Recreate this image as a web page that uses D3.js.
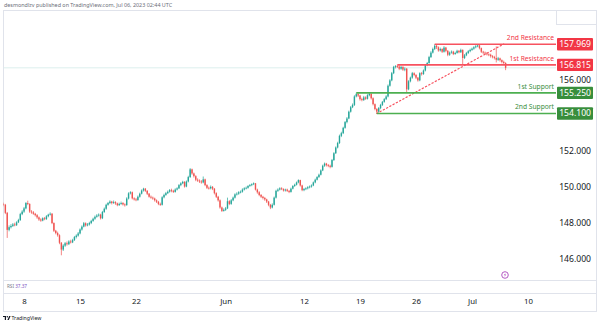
<!DOCTYPE html>
<html>
<head>
<meta charset="utf-8">
<script src="https://cdn.jsdelivr.net/npm/d3@7"></script>
<style>
  html, body { margin: 0; padding: 0; background: #ffffff; }
  svg { display: block; font-family: "Noto Sans", "DejaVu Sans", sans-serif; }
</style>
</head>
<body>
<svg id="chart" width="600" height="325"></svg>
<script>
// USD/JPY 4-hour candles, 4 May – 6 Jul 2023 (each candle opens at the prior close)
const firstOpen = 149.05;
const closes = [
  149.00,148.55,147.60,147.75,147.82,147.90,147.86,148.02,148.15,148.48,
  148.62,148.80,149.10,149.05,148.62,148.58,148.50,148.42,148.30,148.18,
  148.12,148.25,148.20,148.36,148.45,148.50,147.98,147.55,147.42,147.30,
  146.88,146.50,146.72,146.85,146.80,146.95,146.90,147.03,147.20,147.28,
  147.40,147.62,147.78,147.97,147.85,147.90,147.98,148.10,148.22,148.33,
  148.40,148.45,148.25,148.60,148.78,149.00,149.10,149.18,149.10,149.15,
  149.08,148.98,149.05,149.10,149.02,148.98,149.35,149.64,149.70,149.36,
  149.30,149.27,149.45,149.62,149.80,149.90,149.78,149.62,149.45,149.40,
  149.35,149.25,149.17,149.05,149.00,149.42,149.55,149.65,149.73,149.82,
  149.78,149.72,149.85,149.92,150.10,150.20,150.28,150.02,150.30,150.55,
  150.98,150.75,150.60,150.40,150.35,150.30,150.25,150.42,150.10,149.95,
  149.92,150.00,149.90,149.65,149.45,149.25,148.85,148.66,148.72,148.80,
  149.20,149.05,149.25,149.40,149.58,149.62,149.70,149.73,149.85,149.92,
  149.95,150.05,150.10,150.15,150.20,149.85,149.70,149.55,149.45,149.38,
  149.30,149.18,149.00,148.85,149.00,149.40,149.78,149.85,149.92,149.88,
  149.80,149.85,149.78,149.72,149.90,150.05,150.12,150.25,150.38,150.08,
  149.82,149.88,149.92,149.98,150.02,150.08,150.25,150.40,150.55,150.68,
  150.92,151.18,151.30,151.22,151.18,151.12,151.50,151.88,152.20,152.45,
  152.85,153.00,153.30,153.62,153.82,154.20,154.45,154.58,155.05,155.18,
  155.10,154.90,154.85,155.00,154.92,155.12,155.20,154.95,154.62,154.35,
  154.20,154.40,154.58,154.75,154.90,155.05,155.65,155.95,156.35,156.70,
  156.75,156.72,156.60,156.70,156.55,156.60,155.45,155.90,156.10,156.35,
  156.25,156.10,155.95,156.35,156.30,156.50,156.80,156.92,157.25,157.50,
  157.70,157.88,157.80,157.62,157.70,157.55,157.78,157.60,157.38,157.50,
  157.55,157.42,157.48,157.60,157.52,157.65,157.20,157.35,157.48,157.58,
  157.65,157.72,157.80,157.85,157.90,157.75,157.55,157.50,157.45,157.40,
  157.38,157.30,157.25,157.20,157.10,157.18,157.08,156.98,156.92,156.65
];
const highs = [
  149.12,149.05,148.60,147.85,147.92,147.98,148.00,148.08,148.22,148.55,
  148.70,148.88,149.15,149.23,149.08,148.70,148.65,148.55,148.48,148.35,
  148.25,148.30,148.32,148.42,148.50,148.58,148.54,148.02,147.60,147.50,
  147.35,146.92,146.80,146.92,146.95,147.02,147.05,147.10,147.26,147.35,
  147.48,147.68,147.85,148.04,148.02,147.98,148.05,148.16,148.28,148.40,
  148.48,148.52,148.50,148.66,148.85,149.06,149.16,149.25,149.22,149.24,
  149.20,149.12,149.12,149.18,149.15,149.08,149.42,149.70,149.76,149.74,
  149.42,149.38,149.52,149.68,149.86,149.95,149.94,149.82,149.66,149.52,
  149.46,149.40,149.30,149.22,149.12,149.48,149.62,149.72,149.80,149.88,
  149.90,149.84,149.92,149.98,150.16,150.26,150.34,150.32,150.36,150.62,
  151.05,151.02,150.80,150.65,150.48,150.42,150.38,150.58,150.46,150.15,
  150.02,150.08,150.05,149.94,149.70,149.50,149.30,148.90,148.80,148.88,
  149.40,149.26,149.32,149.46,149.64,149.70,149.76,149.80,149.92,149.98,
  150.02,150.10,150.16,150.20,150.25,150.22,149.90,149.76,149.60,149.50,
  149.44,149.34,149.22,149.05,149.08,149.46,149.84,149.92,149.98,149.98,
  149.92,149.90,149.90,149.82,149.96,150.10,150.18,150.30,150.42,150.40,
  150.12,149.94,149.98,150.04,150.08,150.14,150.30,150.46,150.60,150.74,
  150.98,151.24,151.36,151.34,151.28,151.24,151.56,151.94,152.26,152.52,
  152.92,153.08,153.36,153.68,153.90,154.26,154.52,154.66,155.12,155.26,
  155.24,155.14,154.98,155.08,155.06,155.18,155.25,155.22,155.00,154.66,
  154.40,154.46,154.64,154.80,154.96,155.12,155.72,156.02,156.42,156.76,
  156.80,156.815,156.78,156.76,156.74,156.68,156.64,155.96,156.16,156.42,
  156.40,156.30,156.14,156.40,156.42,156.56,156.86,156.98,157.32,157.58,
  157.78,157.969,157.94,157.85,157.78,157.74,157.86,157.82,157.64,157.56,
  157.62,157.60,157.55,157.66,157.64,157.72,157.68,157.42,157.54,157.64,
  157.72,157.78,157.86,157.92,157.96,157.93,157.78,157.60,157.56,157.52,
  157.46,157.44,157.36,157.32,157.85,157.26,157.22,157.12,157.05,156.96
];
const lows = [
  148.92,148.48,147.15,147.52,147.68,147.76,147.80,147.82,147.98,148.10,
  148.42,148.55,148.75,148.98,148.55,148.50,148.44,148.35,148.22,148.10,
  148.05,148.08,148.14,148.16,148.30,148.40,147.92,147.48,147.35,147.22,
  146.80,146.18,146.42,146.65,146.72,146.75,146.84,146.86,146.98,147.12,
  147.22,147.35,147.56,147.74,147.78,147.80,147.84,147.92,148.05,148.16,
  148.28,148.34,148.18,148.20,148.55,148.72,148.95,149.04,149.02,149.05,
  149.00,148.92,148.94,149.00,148.96,148.90,148.95,149.30,149.58,149.30,
  149.24,149.20,149.22,149.40,149.58,149.74,149.72,149.55,149.40,149.34,
  149.28,149.18,149.10,148.98,148.94,148.96,149.36,149.50,149.60,149.68,
  149.70,149.66,149.68,149.80,149.88,150.04,150.15,149.96,149.98,150.25,
  150.50,150.68,150.52,150.32,150.28,150.22,150.18,150.20,150.04,149.88,
  149.85,149.86,149.82,149.58,149.38,149.18,148.78,148.60,148.62,148.66,
  148.76,148.98,149.00,149.20,149.35,149.52,149.56,149.64,149.68,149.80,
  149.86,149.90,150.00,150.04,150.10,149.80,149.62,149.48,149.38,149.30,
  149.22,149.10,148.92,148.76,148.80,148.96,149.35,149.72,149.80,149.82,
  149.74,149.74,149.72,149.65,149.68,149.86,150.00,150.08,150.20,150.02,
  149.76,149.76,149.82,149.86,149.92,149.96,150.04,150.20,150.36,150.50,
  150.64,150.88,151.12,151.14,151.10,151.04,151.08,151.45,151.84,152.15,
  152.40,152.78,152.95,153.25,153.55,153.78,154.15,154.40,154.52,155.00,
  155.02,154.82,154.78,154.80,154.86,154.88,155.06,154.88,154.55,154.28,
  154.10,154.15,154.34,154.52,154.70,154.85,155.00,155.60,155.90,156.30,
  156.62,156.64,156.52,156.54,156.48,156.46,155.25,155.40,155.84,156.04,
  156.18,156.02,155.88,155.90,156.22,156.26,156.45,156.74,156.88,157.20,
  157.45,157.64,157.70,157.55,157.56,157.48,157.50,157.52,157.30,157.32,
  157.44,157.36,157.38,157.44,157.46,157.48,156.82,157.14,157.30,157.42,
  157.52,157.60,157.66,157.74,157.80,157.68,157.48,157.42,157.38,157.34,
  157.30,157.22,157.18,157.12,156.95,157.04,157.00,156.90,156.85,156.52
];

// Time axis: candle index of each labelled day
const xTickIdx = [11, 41, 71, 119, 161, 191, 221, 251, 281];
const xTickLabels = ["8", "15", "22", "Jun", "12", "19", "26", "Jul", "10"];
// Price axis
const yTicks = [146, 148, 150, 152, 156];

// Support / resistance levels and the candle where each one is anchored
const levelNames = ["2nd Resistance", "1st Resistance", "1st Support", "2nd Support"];
const levelValues = [157.969, 156.815, 155.250, 154.100];
const levelKinds = ["res", "res", "sup", "sup"];
const levelStart = [231, 211, 189, 200];

// Rising trend line: [candle index, price]
const trendFrom = [200, 154.10];
const trendTo = [268, 157.98];

const rsiValue = "37.37";

// ---------------------------------------------------------------
const UP = "#26a69a", DOWN = "#ef5350";
const RED = "#f23645", RED_LINE = "#f7525f", GREEN = "#388e3c", GREEN_LINE = "#4caf50";
const plot = { left: 3.5, right: 556, top: 10, bottom: 280 };

const svg = d3.select("#chart");

const x = d3.scaleLinear().domain([0, 296]).range([3.5, 556]);
const y = d3.scaleLinear().domain([144.8, 159.88]).range([280, 10]);

// frame and pane separators
const frame = svg.append("g").attr("stroke", "#e0e3eb").attr("fill", "none").attr("stroke-width", 1);
frame.append("rect").attr("x", 3.5).attr("y", 10.5).attr("width", 593).attr("height", 301);
frame.append("line").attr("x1", 3.5).attr("x2", 596.5).attr("y1", 280.5).attr("y2", 280.5);
frame.append("line").attr("x1", 3.5).attr("x2", 596.5).attr("y1", 293.5).attr("y2", 293.5);
frame.append("rect").attr("x", 556.5).attr("y", 10.5).attr("width", 40).attr("height", 14);

svg.append("defs").append("clipPath").attr("id", "plotClip")
  .append("rect").attr("x", plot.left).attr("y", plot.top)
  .attr("width", plot.right - plot.left).attr("height", plot.bottom - plot.top);

const pane = svg.append("g").attr("clip-path", "url(#plotClip)");

// last price line
const lastClose = closes[closes.length - 1];
pane.append("line")
  .attr("x1", plot.left).attr("x2", plot.right)
  .attr("y1", y(lastClose)).attr("y2", y(lastClose))
  .attr("stroke", "#dcefed").attr("stroke-width", 1);

// candles
const candles = closes.map((c, i) => ({
  i, open: i === 0 ? firstOpen : closes[i - 1], close: c, high: highs[i], low: lows[i]
}));
const cg = pane.append("g").selectAll("g").data(candles).join("g")
  .attr("fill", d => d.close >= d.open ? UP : DOWN)
  .attr("stroke", d => d.close >= d.open ? UP : DOWN);
cg.append("line")
  .attr("x1", d => x(d.i)).attr("x2", d => x(d.i))
  .attr("y1", d => y(d.high)).attr("y2", d => y(d.low))
  .attr("stroke-width", 0.7);
cg.append("rect")
  .attr("stroke", "none")
  .attr("x", d => x(d.i) - 0.7).attr("width", 1.4)
  .attr("y", d => y(Math.max(d.open, d.close)))
  .attr("height", d => Math.max(0.8, Math.abs(y(d.open) - y(d.close))));

// trend line
pane.append("line")
  .attr("x1", x(trendFrom[0])).attr("y1", y(trendFrom[1]))
  .attr("x2", x(trendTo[0])).attr("y2", y(trendTo[1]))
  .attr("stroke", RED_LINE).attr("stroke-width", 1.2)
  .attr("stroke-dasharray", "1.3,2.4").attr("stroke-linecap", "round");

// level lines with captions
levelValues.forEach((v, k) => {
  const res = levelKinds[k] === "res";
  pane.append("line")
    .attr("x1", x(levelStart[k])).attr("x2", plot.right)
    .attr("y1", y(v)).attr("y2", y(v))
    .attr("stroke", res ? RED_LINE : GREEN_LINE).attr("stroke-width", 1.6);
  svg.append("text")
    .attr("x", 554).attr("y", y(v) - 4)
    .attr("text-anchor", "end")
    .attr("font-size", 6.7).attr("fill", res ? RED : GREEN)
    .text(levelNames[k]);
});

// price axis labels
const yAxis = svg.append("g").attr("transform", "translate(591,0)")
  .call(d3.axisRight(y).tickValues(yTicks).tickFormat(d => d.toFixed(3)).tickSize(0));
yAxis.select(".domain").remove();
yAxis.selectAll("text")
  .attr("x", 0).attr("text-anchor", "end")
  .attr("font-family", "\"Noto Sans\", sans-serif").attr("font-size", 8.6).attr("fill", "#131722");

// level value boxes on the price axis
levelValues.forEach((v, k) => {
  const res = levelKinds[k] === "res";
  svg.append("rect")
    .attr("x", 557).attr("y", y(v) - 6.2).attr("width", 36).attr("height", 12.4)
    .attr("rx", 1).attr("fill", res ? RED : GREEN);
  svg.append("text")
    .attr("x", 591).attr("y", y(v)).attr("dy", "0.35em")
    .attr("text-anchor", "end").attr("font-size", 8.6).attr("fill", "#ffffff")
    .text(v.toFixed(3));
});

// time axis
const xAxis = svg.append("g").attr("transform", "translate(0,293)")
  .call(d3.axisBottom(x).tickValues(xTickIdx).tickFormat((d, i) => xTickLabels[i]).tickSize(0).tickPadding(5));
xAxis.select(".domain").remove();
xAxis.selectAll("text")
  .attr("font-family", "\"Noto Sans\", sans-serif").attr("font-size", 7.8).attr("fill", "#131722");

// RSI pane caption
const rsi = svg.append("text").attr("x", 7).attr("y", 287.6).attr("font-size", 4.6);
rsi.append("tspan").attr("fill", "#787b86").text("RSI ");
rsi.append("tspan").attr("fill", "#7e57c2").text(rsiValue);

// event marker above the RSI pane
const ev = svg.append("g").attr("transform", "translate(505,275)");
ev.append("circle").attr("r", 3.3).attr("fill", "#ffffff").attr("stroke", "#ab47bc").attr("stroke-width", 0.9);
ev.append("path").attr("d", "M0.6,-2 L-1.2,0.3 L0.2,0.3 L-0.6,2 L1.2,-0.4 L-0.2,-0.4 Z").attr("fill", "#ab47bc");

// header
svg.append("text").attr("x", 4).attr("y", 7).attr("font-size", 5.4).attr("fill", "#6a6d78")
  .text("desmondlzv published on TradingView.com, Jul 06, 2023 02:44 UTC");

// footer logo
const logo = svg.append("g").attr("transform", "translate(3,316)");
logo.append("path").attr("d", "M0,0 H3 V4 H1.8 V1.1 H0 Z").attr("fill", "#131722");
logo.append("circle").attr("cx", 4.3).attr("cy", 0.8).attr("r", 0.8).attr("fill", "#131722");
logo.append("path").attr("d", "M4.4,4 L6.2,0 H7.6 L5.8,4 Z").attr("fill", "#131722");
svg.append("text").attr("x", 11.5).attr("y", 320).attr("font-size", 5.2).attr("fill", "#131722")
  .text("TradingView");
</script>
</body>
</html>
